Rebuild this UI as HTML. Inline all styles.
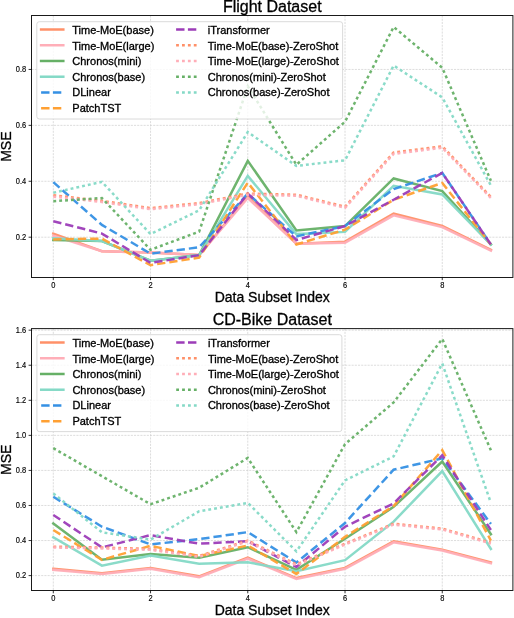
<!DOCTYPE html>
<html><head><meta charset="utf-8"><style>
html,body{margin:0;padding:0;background:#fff;width:514px;height:618px;overflow:hidden}
svg{display:block;will-change:transform}
</style></head><body>
<svg width="514" height="618" viewBox="0 0 514 618">
<rect width="514" height="618" fill="#fff"/>
<g stroke="#cfcfcf" stroke-width="0.7" stroke-dasharray="2.1 1.1"><line x1="53.30" y1="15.50" x2="53.30" y2="277.10"/><line x1="150.54" y1="15.50" x2="150.54" y2="277.10"/><line x1="247.78" y1="15.50" x2="247.78" y2="277.10"/><line x1="345.02" y1="15.50" x2="345.02" y2="277.10"/><line x1="442.26" y1="15.50" x2="442.26" y2="277.10"/><line x1="31.60" y1="237.20" x2="512.90" y2="237.20"/><line x1="31.60" y1="181.28" x2="512.90" y2="181.28"/><line x1="31.60" y1="125.36" x2="512.90" y2="125.36"/><line x1="31.60" y1="69.44" x2="512.90" y2="69.44"/></g>
<polyline points="53.30,233.57 101.92,251.18 150.54,252.58 199.16,255.09 247.78,196.38 296.40,243.63 345.02,241.67 393.64,213.71 442.26,226.02 490.88,249.78" fill="none" stroke="#ff9068" stroke-width="2.5" stroke-linejoin="miter" stroke-opacity="0.95" stroke-linecap="square"/>
<polyline points="53.30,235.80 101.92,251.18 150.54,252.58 199.16,255.09 247.78,198.06 296.40,243.63 345.02,242.79 393.64,215.39 442.26,227.13 490.88,250.62" fill="none" stroke="#ffaeb8" stroke-width="2.5" stroke-linejoin="miter" stroke-opacity="0.95" stroke-linecap="square"/>
<polyline points="53.30,240.00 101.92,241.11 150.54,260.69 199.16,255.09 247.78,160.87 296.40,230.49 345.02,226.02 393.64,178.48 442.26,191.07 490.88,244.47" fill="none" stroke="#66b066" stroke-width="2.5" stroke-linejoin="miter" stroke-opacity="0.95" stroke-linecap="square"/>
<polyline points="53.30,238.32 101.92,241.11 150.54,260.69 199.16,255.09 247.78,175.97 296.40,234.12 345.02,231.89 393.64,185.75 442.26,194.42 490.88,244.47" fill="none" stroke="#84d9c6" stroke-width="2.5" stroke-linejoin="miter" stroke-opacity="0.95" stroke-linecap="square"/>
<polyline points="53.30,182.12 101.92,224.90 150.54,253.70 199.16,247.27 247.78,193.58 296.40,236.36 345.02,226.02 393.64,189.11 442.26,172.89 490.88,244.47" fill="none" stroke="#3590e4" stroke-width="2.5" stroke-linejoin="miter" stroke-opacity="0.95" stroke-dasharray="8.3 4.0"/>
<polyline points="53.30,239.44 101.92,238.60 150.54,265.16 199.16,257.61 247.78,182.68 296.40,244.47 345.02,229.65 393.64,199.73 442.26,182.96 490.88,244.47" fill="none" stroke="#ffa033" stroke-width="2.5" stroke-linejoin="miter" stroke-opacity="0.95" stroke-dasharray="8.3 4.0"/>
<polyline points="53.30,221.26 101.92,233.57 150.54,262.92 199.16,255.09 247.78,193.58 296.40,240.00 345.02,226.02 393.64,199.73 442.26,172.89 490.88,244.47" fill="none" stroke="#9c3cb8" stroke-width="2.5" stroke-linejoin="miter" stroke-opacity="0.95" stroke-dasharray="8.3 4.0"/>
<polyline points="53.30,195.26 101.92,200.85 150.54,208.12 199.16,203.09 247.78,193.58 296.40,194.70 345.02,206.72 393.64,152.48 442.26,146.33 490.88,196.94" fill="none" stroke="#ff9068" stroke-width="2.5" stroke-linejoin="miter" stroke-opacity="0.95" stroke-dasharray="2.9 3.0"/>
<polyline points="53.30,196.66 101.92,201.97 150.54,209.24 199.16,204.21 247.78,194.70 296.40,195.82 345.02,207.84 393.64,153.88 442.26,147.73 490.88,198.06" fill="none" stroke="#ffaeb8" stroke-width="2.5" stroke-linejoin="miter" stroke-opacity="0.95" stroke-dasharray="2.9 3.0"/>
<polyline points="53.30,201.13 101.92,198.06 150.54,249.78 199.16,231.61 247.78,86.22 296.40,164.78 345.02,121.73 393.64,26.94 442.26,67.76 490.88,180.72" fill="none" stroke="#66b066" stroke-width="2.5" stroke-linejoin="miter" stroke-opacity="0.95" stroke-dasharray="2.9 3.0"/>
<polyline points="53.30,192.74 101.92,181.84 150.54,234.12 199.16,210.36 247.78,132.07 296.40,165.90 345.02,160.31 393.64,65.53 442.26,97.40 490.88,185.47" fill="none" stroke="#84d9c6" stroke-width="2.5" stroke-linejoin="miter" stroke-opacity="0.95" stroke-dasharray="2.9 3.0"/>
<rect x="31.50" y="15.50" width="481.40" height="262.00" fill="none" stroke="#1a1a1a" stroke-width="1.0"/>
<g stroke="#000" stroke-width="0.8"><line x1="53.30" y1="277.10" x2="53.30" y2="280.10"/><line x1="150.54" y1="277.10" x2="150.54" y2="280.10"/><line x1="247.78" y1="277.10" x2="247.78" y2="280.10"/><line x1="345.02" y1="277.10" x2="345.02" y2="280.10"/><line x1="442.26" y1="277.10" x2="442.26" y2="280.10"/><line x1="28.60" y1="237.20" x2="31.60" y2="237.20"/><line x1="28.60" y1="181.28" x2="31.60" y2="181.28"/><line x1="28.60" y1="125.36" x2="31.60" y2="125.36"/><line x1="28.60" y1="69.44" x2="31.60" y2="69.44"/></g>
<g font-family='"Liberation Sans", sans-serif' font-size="8.3" fill="#000" stroke="#000" stroke-width="0.15"><text transform="translate(53.30 287.50) scale(0.9 1)" text-anchor="middle">0</text><text transform="translate(150.54 287.50) scale(0.9 1)" text-anchor="middle">2</text><text transform="translate(247.78 287.50) scale(0.9 1)" text-anchor="middle">4</text><text transform="translate(345.02 287.50) scale(0.9 1)" text-anchor="middle">6</text><text transform="translate(442.26 287.50) scale(0.9 1)" text-anchor="middle">8</text><text transform="translate(26.20 239.80) scale(0.9 1)" text-anchor="end">0.2</text><text transform="translate(26.20 183.88) scale(0.9 1)" text-anchor="end">0.4</text><text transform="translate(26.20 127.96) scale(0.9 1)" text-anchor="end">0.6</text><text transform="translate(26.20 72.04) scale(0.9 1)" text-anchor="end">0.8</text></g>
<text x="272.25" y="301.80" text-anchor="middle" font-family='"Liberation Sans", sans-serif' font-size="14" fill="#000" stroke="#000" stroke-width="0.3">Data Subset Index</text>
<text x="272.25" y="11.80" text-anchor="middle" font-family='"Liberation Sans", sans-serif' font-size="16" fill="#000" stroke="#000" stroke-width="0.3">Flight Dataset</text>
<text transform="translate(11.3 146.60) rotate(-90)" text-anchor="middle" font-family='"Liberation Sans", sans-serif' font-size="14.1" fill="#000" stroke="#000" stroke-width="0.3">MSE</text>
<rect x="36.80" y="21.70" width="305.80" height="97.30" rx="2.5" fill="#fff" fill-opacity="0.8" stroke="#d6d6d6" stroke-width="0.9"/>
<line x1="41.10" y1="29.50" x2="63.30" y2="29.50" stroke="#ff9068" stroke-width="2.5" stroke-linecap="square"/>
<text x="72.30" y="34.00" font-family='"Liberation Sans", sans-serif' font-size="11" fill="#000" stroke="#000" stroke-width="0.32">Time-MoE(base)</text>
<line x1="41.10" y1="45.24" x2="63.30" y2="45.24" stroke="#ffaeb8" stroke-width="2.5" stroke-linecap="square"/>
<text x="72.30" y="49.55" font-family='"Liberation Sans", sans-serif' font-size="11" fill="#000" stroke="#000" stroke-width="0.32">Time-MoE(large)</text>
<line x1="41.10" y1="60.98" x2="63.30" y2="60.98" stroke="#66b066" stroke-width="2.5" stroke-linecap="square"/>
<text x="72.30" y="65.10" font-family='"Liberation Sans", sans-serif' font-size="11" fill="#000" stroke="#000" stroke-width="0.32">Chronos(mini)</text>
<line x1="41.10" y1="76.72" x2="63.30" y2="76.72" stroke="#84d9c6" stroke-width="2.5" stroke-linecap="square"/>
<text x="72.30" y="80.65" font-family='"Liberation Sans", sans-serif' font-size="11" fill="#000" stroke="#000" stroke-width="0.32">Chronos(base)</text>
<line x1="41.10" y1="92.46" x2="63.30" y2="92.46" stroke="#3590e4" stroke-width="2.5" stroke-dasharray="8.4 3.4"/>
<text x="72.30" y="96.20" font-family='"Liberation Sans", sans-serif' font-size="11" fill="#000" stroke="#000" stroke-width="0.32">DLinear</text>
<line x1="41.10" y1="108.20" x2="63.30" y2="108.20" stroke="#ffa033" stroke-width="2.5" stroke-dasharray="8.4 3.4"/>
<text x="72.30" y="111.75" font-family='"Liberation Sans", sans-serif' font-size="11" fill="#000" stroke="#000" stroke-width="0.32">PatchTST</text>
<line x1="176.10" y1="29.50" x2="198.30" y2="29.50" stroke="#9c3cb8" stroke-width="2.5" stroke-dasharray="8.4 3.4"/>
<text x="207.80" y="34.00" font-family='"Liberation Sans", sans-serif' font-size="11" fill="#000" stroke="#000" stroke-width="0.32">iTransformer</text>
<line x1="176.10" y1="45.24" x2="198.30" y2="45.24" stroke="#ff9068" stroke-width="2.5" stroke-dasharray="2.8 3.1"/>
<text x="207.80" y="49.55" font-family='"Liberation Sans", sans-serif' font-size="11" fill="#000" stroke="#000" stroke-width="0.32">Time-MoE(base)-ZeroShot</text>
<line x1="176.10" y1="60.98" x2="198.30" y2="60.98" stroke="#ffaeb8" stroke-width="2.5" stroke-dasharray="2.8 3.1"/>
<text x="207.80" y="65.10" font-family='"Liberation Sans", sans-serif' font-size="11" fill="#000" stroke="#000" stroke-width="0.32">Time-MoE(large)-ZeroShot</text>
<line x1="176.10" y1="76.72" x2="198.30" y2="76.72" stroke="#66b066" stroke-width="2.5" stroke-dasharray="2.8 3.1"/>
<text x="207.80" y="80.65" font-family='"Liberation Sans", sans-serif' font-size="11" fill="#000" stroke="#000" stroke-width="0.32">Chronos(mini)-ZeroShot</text>
<line x1="176.10" y1="92.46" x2="198.30" y2="92.46" stroke="#84d9c6" stroke-width="2.5" stroke-dasharray="2.8 3.1"/>
<text x="207.80" y="96.20" font-family='"Liberation Sans", sans-serif' font-size="11" fill="#000" stroke="#000" stroke-width="0.32">Chronos(base)-ZeroShot</text>
<g stroke="#cfcfcf" stroke-width="0.7" stroke-dasharray="2.1 1.1"><line x1="53.30" y1="328.60" x2="53.30" y2="590.30"/><line x1="150.54" y1="328.60" x2="150.54" y2="590.30"/><line x1="247.78" y1="328.60" x2="247.78" y2="590.30"/><line x1="345.02" y1="328.60" x2="345.02" y2="590.30"/><line x1="442.26" y1="328.60" x2="442.26" y2="590.30"/><line x1="31.60" y1="575.60" x2="512.90" y2="575.60"/><line x1="31.60" y1="540.54" x2="512.90" y2="540.54"/><line x1="31.60" y1="505.48" x2="512.90" y2="505.48"/><line x1="31.60" y1="470.42" x2="512.90" y2="470.42"/><line x1="31.60" y1="435.36" x2="512.90" y2="435.36"/><line x1="31.60" y1="400.30" x2="512.90" y2="400.30"/><line x1="31.60" y1="365.24" x2="512.90" y2="365.24"/><line x1="31.60" y1="330.18" x2="512.90" y2="330.18"/></g>
<polyline points="53.30,568.76 101.92,573.15 150.54,567.89 199.16,576.30 247.78,557.72 296.40,578.05 345.02,567.89 393.64,541.42 442.26,549.66 490.88,562.28" fill="none" stroke="#ff9068" stroke-width="2.5" stroke-linejoin="miter" stroke-opacity="0.95" stroke-linecap="square"/>
<polyline points="53.30,569.82 101.92,574.02 150.54,568.76 199.16,577.18 247.78,558.60 296.40,578.93 345.02,568.76 393.64,542.29 442.26,550.53 490.88,563.33" fill="none" stroke="#ffaeb8" stroke-width="2.5" stroke-linejoin="miter" stroke-opacity="0.95" stroke-linecap="square"/>
<polyline points="53.30,523.54 101.92,559.82 150.54,554.04 199.16,557.72 247.78,547.20 296.40,569.82 345.02,538.79 393.64,506.88 442.26,461.48 490.88,534.23" fill="none" stroke="#66b066" stroke-width="2.5" stroke-linejoin="miter" stroke-opacity="0.95" stroke-linecap="square"/>
<polyline points="53.30,537.38 101.92,565.61 150.54,555.62 199.16,563.68 247.78,562.28 296.40,571.22 345.02,560.17 393.64,521.61 442.26,471.12 490.88,548.95" fill="none" stroke="#84d9c6" stroke-width="2.5" stroke-linejoin="miter" stroke-opacity="0.95" stroke-linecap="square"/>
<polyline points="53.30,496.72 101.92,526.69 150.54,544.40 199.16,539.14 247.78,532.13 296.40,562.45 345.02,523.01 393.64,469.72 442.26,458.32 490.88,523.89" fill="none" stroke="#3590e4" stroke-width="2.5" stroke-linejoin="miter" stroke-opacity="0.95" stroke-dasharray="8.3 4.0"/>
<polyline points="53.30,530.02 101.92,559.82 150.54,545.80 199.16,555.97 247.78,545.45 296.40,574.02 345.02,536.86 393.64,506.01 442.26,450.09 490.88,540.54" fill="none" stroke="#ffa033" stroke-width="2.5" stroke-linejoin="miter" stroke-opacity="0.95" stroke-dasharray="8.3 4.0"/>
<polyline points="53.30,514.95 101.92,547.38 150.54,535.11 199.16,543.70 247.78,541.24 296.40,567.01 345.02,526.69 393.64,503.38 442.26,455.34 490.88,530.02" fill="none" stroke="#9c3cb8" stroke-width="2.5" stroke-linejoin="miter" stroke-opacity="0.95" stroke-dasharray="8.3 4.0"/>
<polyline points="53.30,546.68 101.92,547.55 150.54,548.95 199.16,555.97 247.78,540.54 296.40,564.38 345.02,543.70 393.64,523.71 442.26,528.62 490.88,542.64" fill="none" stroke="#ff9068" stroke-width="2.5" stroke-linejoin="miter" stroke-opacity="0.95" stroke-dasharray="2.9 3.0"/>
<polyline points="53.30,547.55 101.92,548.43 150.54,549.83 199.16,556.84 247.78,541.42 296.40,565.26 345.02,544.57 393.64,524.59 442.26,529.50 490.88,543.52" fill="none" stroke="#ffaeb8" stroke-width="2.5" stroke-linejoin="miter" stroke-opacity="0.95" stroke-dasharray="2.9 3.0"/>
<polyline points="53.30,448.16 101.92,476.20 150.54,504.25 199.16,487.77 247.78,457.97 296.40,532.13 345.02,444.12 393.64,402.40 442.26,338.94 490.88,450.26" fill="none" stroke="#66b066" stroke-width="2.5" stroke-linejoin="miter" stroke-opacity="0.95" stroke-dasharray="2.9 3.0"/>
<polyline points="53.30,493.38 101.92,532.30 150.54,539.66 199.16,511.26 247.78,502.85 296.40,551.41 345.02,480.41 393.64,456.40 442.26,363.49 490.88,502.85" fill="none" stroke="#84d9c6" stroke-width="2.5" stroke-linejoin="miter" stroke-opacity="0.95" stroke-dasharray="2.9 3.0"/>
<rect x="31.50" y="328.60" width="481.40" height="261.90" fill="none" stroke="#1a1a1a" stroke-width="1.0"/>
<g stroke="#000" stroke-width="0.8"><line x1="53.30" y1="590.30" x2="53.30" y2="593.30"/><line x1="150.54" y1="590.30" x2="150.54" y2="593.30"/><line x1="247.78" y1="590.30" x2="247.78" y2="593.30"/><line x1="345.02" y1="590.30" x2="345.02" y2="593.30"/><line x1="442.26" y1="590.30" x2="442.26" y2="593.30"/><line x1="28.60" y1="575.60" x2="31.60" y2="575.60"/><line x1="28.60" y1="540.54" x2="31.60" y2="540.54"/><line x1="28.60" y1="505.48" x2="31.60" y2="505.48"/><line x1="28.60" y1="470.42" x2="31.60" y2="470.42"/><line x1="28.60" y1="435.36" x2="31.60" y2="435.36"/><line x1="28.60" y1="400.30" x2="31.60" y2="400.30"/><line x1="28.60" y1="365.24" x2="31.60" y2="365.24"/><line x1="28.60" y1="330.18" x2="31.60" y2="330.18"/></g>
<g font-family='"Liberation Sans", sans-serif' font-size="8.3" fill="#000" stroke="#000" stroke-width="0.15"><text transform="translate(53.30 600.70) scale(0.9 1)" text-anchor="middle">0</text><text transform="translate(150.54 600.70) scale(0.9 1)" text-anchor="middle">2</text><text transform="translate(247.78 600.70) scale(0.9 1)" text-anchor="middle">4</text><text transform="translate(345.02 600.70) scale(0.9 1)" text-anchor="middle">6</text><text transform="translate(442.26 600.70) scale(0.9 1)" text-anchor="middle">8</text><text transform="translate(26.20 578.20) scale(0.9 1)" text-anchor="end">0.2</text><text transform="translate(26.20 543.14) scale(0.9 1)" text-anchor="end">0.4</text><text transform="translate(26.20 508.08) scale(0.9 1)" text-anchor="end">0.6</text><text transform="translate(26.20 473.02) scale(0.9 1)" text-anchor="end">0.8</text><text transform="translate(26.20 437.96) scale(0.9 1)" text-anchor="end">1.0</text><text transform="translate(26.20 402.90) scale(0.9 1)" text-anchor="end">1.2</text><text transform="translate(26.20 367.84) scale(0.9 1)" text-anchor="end">1.4</text><text transform="translate(26.20 332.78) scale(0.9 1)" text-anchor="end">1.6</text></g>
<text x="272.25" y="614.90" text-anchor="middle" font-family='"Liberation Sans", sans-serif' font-size="14" fill="#000" stroke="#000" stroke-width="0.3">Data Subset Index</text>
<text x="272.25" y="325.00" text-anchor="middle" font-family='"Liberation Sans", sans-serif' font-size="16" fill="#000" stroke="#000" stroke-width="0.3">CD-Bike Dataset</text>
<text transform="translate(11.3 459.75) rotate(-90)" text-anchor="middle" font-family='"Liberation Sans", sans-serif' font-size="14.1" fill="#000" stroke="#000" stroke-width="0.3">MSE</text>
<rect x="36.90" y="334.70" width="305.00" height="96.90" rx="2.5" fill="#fff" fill-opacity="0.8" stroke="#d6d6d6" stroke-width="0.9"/>
<line x1="41.20" y1="342.50" x2="63.40" y2="342.50" stroke="#ff9068" stroke-width="2.5" stroke-linecap="square"/>
<text x="72.40" y="347.00" font-family='"Liberation Sans", sans-serif' font-size="11" fill="#000" stroke="#000" stroke-width="0.32">Time-MoE(base)</text>
<line x1="41.20" y1="358.24" x2="63.40" y2="358.24" stroke="#ffaeb8" stroke-width="2.5" stroke-linecap="square"/>
<text x="72.40" y="362.55" font-family='"Liberation Sans", sans-serif' font-size="11" fill="#000" stroke="#000" stroke-width="0.32">Time-MoE(large)</text>
<line x1="41.20" y1="373.98" x2="63.40" y2="373.98" stroke="#66b066" stroke-width="2.5" stroke-linecap="square"/>
<text x="72.40" y="378.10" font-family='"Liberation Sans", sans-serif' font-size="11" fill="#000" stroke="#000" stroke-width="0.32">Chronos(mini)</text>
<line x1="41.20" y1="389.72" x2="63.40" y2="389.72" stroke="#84d9c6" stroke-width="2.5" stroke-linecap="square"/>
<text x="72.40" y="393.65" font-family='"Liberation Sans", sans-serif' font-size="11" fill="#000" stroke="#000" stroke-width="0.32">Chronos(base)</text>
<line x1="41.20" y1="405.46" x2="63.40" y2="405.46" stroke="#3590e4" stroke-width="2.5" stroke-dasharray="8.4 3.4"/>
<text x="72.40" y="409.20" font-family='"Liberation Sans", sans-serif' font-size="11" fill="#000" stroke="#000" stroke-width="0.32">DLinear</text>
<line x1="41.20" y1="421.20" x2="63.40" y2="421.20" stroke="#ffa033" stroke-width="2.5" stroke-dasharray="8.4 3.4"/>
<text x="72.40" y="424.75" font-family='"Liberation Sans", sans-serif' font-size="11" fill="#000" stroke="#000" stroke-width="0.32">PatchTST</text>
<line x1="176.20" y1="342.50" x2="198.40" y2="342.50" stroke="#9c3cb8" stroke-width="2.5" stroke-dasharray="8.4 3.4"/>
<text x="207.90" y="347.00" font-family='"Liberation Sans", sans-serif' font-size="11" fill="#000" stroke="#000" stroke-width="0.32">iTransformer</text>
<line x1="176.20" y1="358.24" x2="198.40" y2="358.24" stroke="#ff9068" stroke-width="2.5" stroke-dasharray="2.8 3.1"/>
<text x="207.90" y="362.55" font-family='"Liberation Sans", sans-serif' font-size="11" fill="#000" stroke="#000" stroke-width="0.32">Time-MoE(base)-ZeroShot</text>
<line x1="176.20" y1="373.98" x2="198.40" y2="373.98" stroke="#ffaeb8" stroke-width="2.5" stroke-dasharray="2.8 3.1"/>
<text x="207.90" y="378.10" font-family='"Liberation Sans", sans-serif' font-size="11" fill="#000" stroke="#000" stroke-width="0.32">Time-MoE(large)-ZeroShot</text>
<line x1="176.20" y1="389.72" x2="198.40" y2="389.72" stroke="#66b066" stroke-width="2.5" stroke-dasharray="2.8 3.1"/>
<text x="207.90" y="393.65" font-family='"Liberation Sans", sans-serif' font-size="11" fill="#000" stroke="#000" stroke-width="0.32">Chronos(mini)-ZeroShot</text>
<line x1="176.20" y1="405.46" x2="198.40" y2="405.46" stroke="#84d9c6" stroke-width="2.5" stroke-dasharray="2.8 3.1"/>
<text x="207.90" y="409.20" font-family='"Liberation Sans", sans-serif' font-size="11" fill="#000" stroke="#000" stroke-width="0.32">Chronos(base)-ZeroShot</text>
</svg>
</body></html>
